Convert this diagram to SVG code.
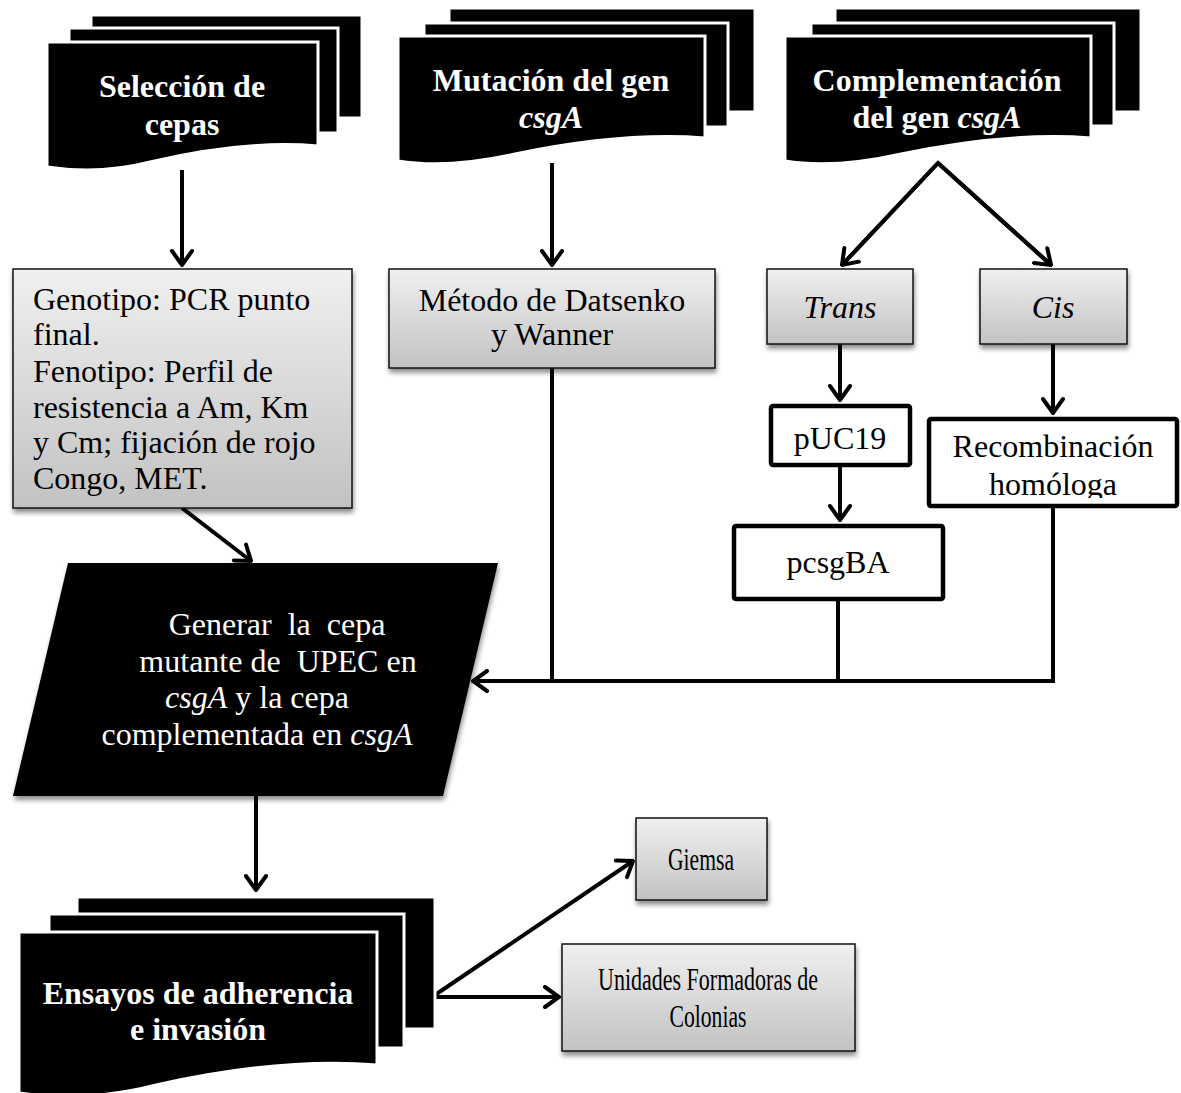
<svg xmlns="http://www.w3.org/2000/svg" width="1181" height="1093" viewBox="0 0 1181 1093">
<defs>
<linearGradient id="g" x1="0" y1="0" x2="0" y2="1">
<stop offset="0" stop-color="#f0f0f0"/>
<stop offset="1" stop-color="#c2c2c2"/>
</linearGradient>
<filter id="sh" x="-10%" y="-10%" width="120%" height="130%">
<feGaussianBlur in="SourceAlpha" stdDeviation="2.5"/>
<feOffset dx="1" dy="4" result="b"/>
<feComponentTransfer><feFuncA type="linear" slope="0.45"/></feComponentTransfer>
<feMerge><feMergeNode/><feMergeNode in="SourceGraphic"/></feMerge>
</filter>
<marker id="arr" viewBox="-17 -12 19 24" refX="0" refY="0" markerWidth="19" markerHeight="24" markerUnits="userSpaceOnUse" orient="auto">
<path d="M-14,-10 L0,0 L-14,10" fill="none" stroke="#000" stroke-width="4" stroke-linecap="round" stroke-linejoin="miter"/>
</marker>
<clipPath id="recClip"><rect x="929" y="419" width="248" height="79"/></clipPath>
</defs>
<style>
.pg{fill:#000;stroke:#fff;stroke-width:3}
.hd{font-family:"Liberation Serif","Times New Roman",serif;font-weight:bold;font-size:32px;fill:#fff;text-anchor:middle}
.tx{font-family:"Liberation Serif","Times New Roman",serif;font-size:32px;fill:#000}
.wt{font-family:"Liberation Serif","Times New Roman",serif;font-size:32px;fill:#fff;text-anchor:middle;white-space:pre}
.c{text-anchor:middle}
.gb{fill:url(#g);stroke:#111;stroke-width:1.5}
.wb{fill:#fff;stroke:#000;stroke-width:4.5}
.ln{fill:none;stroke:#000;stroke-width:4}
</style>

<g id="connectors">
<line class="ln" x1="182" y1="170" x2="182" y2="265" marker-end="url(#arr)"/>
<line class="ln" x1="552" y1="163" x2="552" y2="265" marker-end="url(#arr)"/>
<polyline class="ln" points="842,265 938,163 1051,265"/>
<line class="ln" x1="938" y1="163" x2="842" y2="265" marker-end="url(#arr)"/>
<line class="ln" x1="938" y1="163" x2="1051" y2="265" marker-end="url(#arr)"/>
<line class="ln" x1="840" y1="344" x2="840" y2="400" marker-end="url(#arr)"/>
<line class="ln" x1="840" y1="467" x2="840" y2="520" marker-end="url(#arr)"/>
<line class="ln" x1="1053" y1="344" x2="1053" y2="413" marker-end="url(#arr)"/>
<line class="ln" x1="552" y1="368" x2="552" y2="681"/>
<line class="ln" x1="838" y1="601" x2="838" y2="681"/>
<line class="ln" x1="1053" y1="508" x2="1053" y2="681"/>
<line class="ln" x1="1055" y1="681" x2="473" y2="681" marker-end="url(#arr)"/>
<line class="ln" x1="182" y1="508" x2="251" y2="561" marker-end="url(#arr)"/>
<line class="ln" x1="256" y1="796" x2="256" y2="890" marker-end="url(#arr)"/>
<line class="ln" x1="432" y1="997" x2="633" y2="861" marker-end="url(#arr)"/>
<line class="ln" x1="432" y1="997" x2="559" y2="997" marker-end="url(#arr)"/>
</g>

<g id="seleccion">
<rect class="pg" x="91" y="15" width="271" height="103"/>
<rect class="pg" x="69" y="28" width="269" height="105"/>
<path class="pg" d="M47,42 H318 V146 C261,141 201,150 150,162 C115,171 80,172 47,167 Z"/>
<text class="hd" x="182" y="97">Selección de</text>
<text class="hd" x="182" y="135">cepas</text>
</g>

<g id="mutacion">
<rect class="pg" x="449" y="8" width="306" height="104"/>
<rect class="pg" x="424" y="23" width="304" height="104"/>
<path class="pg" d="M398,36 H705 V138 C640,133 573,142 515,154 C475,163 435,167 398,161 Z"/>
<text class="hd" x="551" y="91">Mutación del gen</text>
<text class="hd" x="551" y="128"><tspan font-style="italic">csgA</tspan></text>
</g>

<g id="complementacion">
<rect class="pg" x="835" y="8" width="306" height="104"/>
<rect class="pg" x="811" y="23" width="303" height="103"/>
<path class="pg" d="M785,36 H1091 V138 C1026,133 959,142 901,154 C861,163 822,167 785,161 Z"/>
<text class="hd" x="937" y="91">Complementación</text>
<text class="hd" x="937" y="128">del gen <tspan font-style="italic">csgA</tspan></text>
</g>

<g id="genotipo">
<rect class="gb" x="13" y="269" width="339" height="239" filter="url(#sh)"/>
<text class="tx" x="33" y="310">Genotipo: PCR punto</text>
<text class="tx" x="33" y="345">final.</text>
<text class="tx" x="33" y="382">Fenotipo: Perfil de</text>
<text class="tx" x="33" y="418">resistencia a Am, Km</text>
<text class="tx" x="33" y="453">y Cm; fijación de rojo</text>
<text class="tx" x="33" y="489">Congo, MET.</text>
</g>

<g id="metodo">
<rect class="gb" x="389" y="269" width="326" height="99" filter="url(#sh)"/>
<text class="tx c" x="552" y="311">Método de Datsenko</text>
<text class="tx c" x="552" y="345">y Wanner</text>
</g>

<g id="trans">
<rect class="gb" x="767" y="269" width="146" height="75" filter="url(#sh)"/>
<text class="tx c" x="840" y="318" font-style="italic">Trans</text>
</g>

<g id="cis">
<rect class="gb" x="980" y="269" width="147" height="75" filter="url(#sh)"/>
<text class="tx c" x="1053" y="318" font-style="italic">Cis</text>
</g>

<g id="puc19">
<rect class="wb" x="771" y="406" width="139" height="59" rx="2"/>
<text class="tx c" x="840" y="449">pUC19</text>
</g>

<g id="recombinacion">
<rect class="wb" x="929" y="419" width="248" height="87" rx="2"/>
<text class="tx c" x="1053" y="457">Recombinación</text>
<text class="tx c" x="1053" y="495" clip-path="url(#recClip)">homóloga</text>
</g>

<g id="pcsgba">
<rect class="wb" x="734" y="526" width="209" height="73" rx="2"/>
<text class="tx c" x="838" y="573">pcsgBA</text>
</g>

<g id="generar">
<polygon points="68,563 498,563 443,796 13,796" fill="#000" filter="url(#sh)"/>
<text class="wt" x="277" y="635" xml:space="preserve">Generar  la  cepa</text>
<text class="wt" x="278" y="672" xml:space="preserve">mutante de  UPEC en</text>
<text class="wt" x="257" y="708"><tspan font-style="italic">csgA</tspan> y la cepa</text>
<text class="wt" x="257" y="745">complementada en <tspan font-style="italic">csgA</tspan></text>
</g>

<g id="ensayos">
<rect class="pg" x="77" y="897" width="358" height="132"/>
<rect class="pg" x="49" y="914" width="355" height="134"/>
<path class="pg" d="M19,932 H377 V1065 C302,1059 223,1070 156,1085 C110,1097 63,1099 19,1093 Z"/>
<text class="hd" x="198" y="1004">Ensayos de adherencia</text>
<text class="hd" x="198" y="1040">e invasión</text>
</g>

<g id="giemsa">
<rect class="gb" x="636" y="818" width="131" height="82" filter="url(#sh)"/>
<text class="tx c" x="701" y="870" textLength="66" lengthAdjust="spacingAndGlyphs">Giemsa</text>
</g>

<g id="ufc">
<rect class="gb" x="562" y="944" width="293" height="107" filter="url(#sh)"/>
<text class="tx c" x="708" y="990" textLength="220" lengthAdjust="spacingAndGlyphs">Unidades Formadoras de</text>
<text class="tx c" x="708" y="1027" textLength="77" lengthAdjust="spacingAndGlyphs">Colonias</text>
</g>
</svg>
